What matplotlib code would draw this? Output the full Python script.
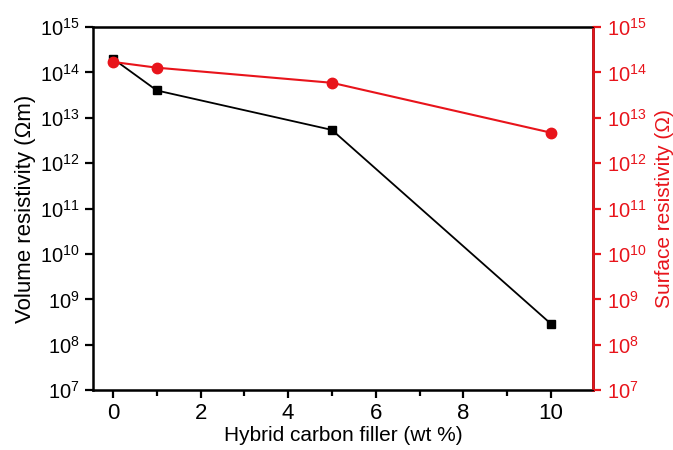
import matplotlib
matplotlib.use("Agg")
from matplotlib import pyplot as plt
from matplotlib.ticker import LogLocator, MultipleLocator, NullLocator

plt.rcParams['font.family'] = ['Liberation Sans', 'DejaVu Sans']
plt.rcParams['mathtext.fontset'] = 'custom'
plt.rcParams['mathtext.rm'] = 'Liberation Sans'

# data
filler = [0, 1, 5, 10]
volume_res = [2.0e14, 4.0e13, 5.4e12, 2.9e8]
surface_res = [1.7e14, 1.27e14, 5.9e13, 4.7e12]

red = '#e8141b'

fig = plt.figure(figsize=(6.73, 4.5), dpi=100)
ax = fig.add_axes([0.138, 0.133, 0.743, 0.807])
ax2 = ax.twinx()

ax.plot(filler, volume_res, color='black', marker='s', markersize=6, lw=1.3, zorder=3)
ax2.plot(filler, surface_res, color=red, marker='o', markersize=7.5, lw=1.5, zorder=3)

for a in (ax, ax2):
    a.set_yscale('log')
    a.set_ylim(1e7, 1e15)
    a.yaxis.set_major_locator(LogLocator(base=10, numticks=20))
    a.yaxis.set_minor_locator(NullLocator())

ax.set_xlim(-0.46, 10.96)
ax.xaxis.set_major_locator(MultipleLocator(2))
ax.xaxis.set_minor_locator(MultipleLocator(1))

ax.tick_params(axis='both', which='major', direction='out', length=6, width=1.6, labelsize=14.5)
ax.tick_params(axis='x', which='major', labelsize=16)
ax.tick_params(axis='x', which='minor', direction='out', length=4, width=1.6)
ax2.tick_params(axis='y', which='major', direction='out', length=6, width=1.6, labelsize=14.5,
                pad=4, colors=red)

for s in ax.spines.values():
    s.set_linewidth(1.8)
ax2.spines['right'].set_color(red)
ax2.spines['right'].set_linewidth(1.8)
ax2.spines['left'].set_visible(False)

ax.set_xlabel('Hybrid carbon filler (wt %)', fontsize=15, labelpad=1)
ax.set_ylabel('Volume resistivity (\u03a9m)', fontsize=16)
ax2.set_ylabel('Surface resistivity (\u03a9)', fontsize=15, color=red)
ax.yaxis.set_label_coords(-0.113, 0.5)
ax2.yaxis.set_label_coords(1.124, 0.5)

fig.savefig('out.png', dpi=100)
